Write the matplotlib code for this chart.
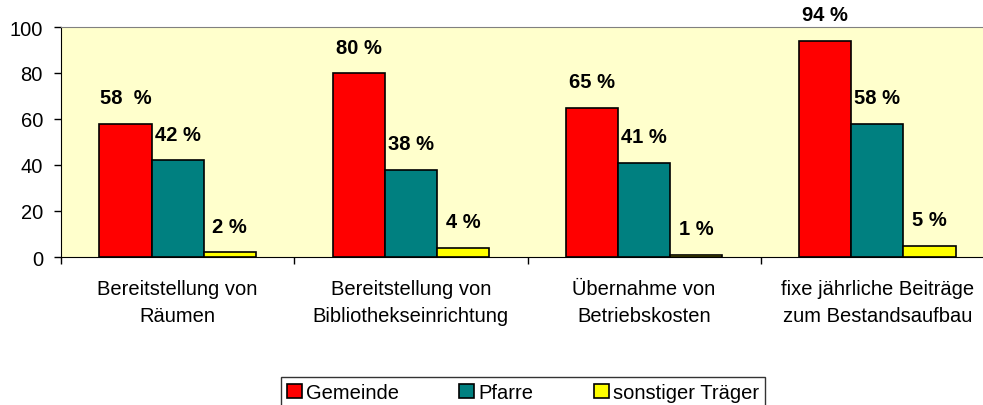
import numpy as np
import matplotlib.pyplot as plt

plt.rcParams['font.family'] = ['Liberation Sans', 'DejaVu Sans']

categories = ["Bereitstellung von\nRäumen",
              "Bereitstellung von\nBibliothekseinrichtung",
              "Übernahme von\nBetriebskosten",
              "fixe jährliche Beiträge\nzum Bestandsaufbau"]
series = ["Gemeinde", "Pfarre", "sonstiger Träger"]
gemeinde = [58, 80, 65, 94]
pfarre = [42, 38, 41, 58]
sonstige = [2, 4, 1, 5]
labels_gemeinde = ["58  %", "80 %", "65 %", "94 %"]
labels_pfarre = ["42 %", "38 %", "41 %", "58 %"]
labels_sonstige = ["2 %", "4 %", "1 %", "5 %"]
colors = ["#FF0000", "#008080", "#FFFF00"]

fs = 14.5

fig = plt.figure(figsize=(9.83, 4.06), dpi=100)
# axes runs past the right edge like the cropped original
ax = fig.add_axes([61/983, 1-258/406, 933/983, 230/406])
ax.set_facecolor("#FFFFCC")

x = np.arange(len(categories))
w = 0.224
data = [gemeinde, pfarre, sonstige]
labs = [labels_gemeinde, labels_pfarre, labels_sonstige]
for k in range(3):
    pos = x + (k-1)*w
    ax.bar(pos, data[k], width=w, color=colors[k], edgecolor="black",
           linewidth=1.2, label=series[k], zorder=3)
    for p, v, t in zip(pos, data[k], labs[k]):
        ax.text(p, v+11.3, t, ha="center", va="center", fontsize=fs,
                fontweight="bold", clip_on=False)

ax.set_xlim(-0.5, len(categories)-0.5)
ax.set_ylim(0, 100)
ax.set_yticks([0, 20, 40, 60, 80, 100])
ax.tick_params(axis="y", length=5, width=1, pad=8, labelsize=fs)
ax.set_xticks(x)
ax.set_xticklabels(categories, fontsize=fs, linespacing=1.55)
ax.tick_params(axis="x", which="major", length=0, pad=16)
ax.set_xticks(np.arange(len(categories)+1)-0.5, minor=True)
ax.tick_params(axis="x", which="minor", length=5, width=1)

ax.spines["top"].set_color("#808080")
ax.spines["right"].set_visible(False)
ax.spines["left"].set_color("black")
ax.spines["bottom"].set_color("black")

leg = fig.legend(loc="upper center", bbox_to_anchor=(523/983, 1-378/406),
                 ncol=3, fontsize=fs, frameon=True, fancybox=False,
                 edgecolor="black", handlelength=0.75, handleheight=0.75,
                 handletextpad=0.2, columnspacing=3.0, borderpad=0.3,
                 borderaxespad=0)
leg.get_frame().set_linewidth(1)

plt.savefig("out.png", dpi=100)
